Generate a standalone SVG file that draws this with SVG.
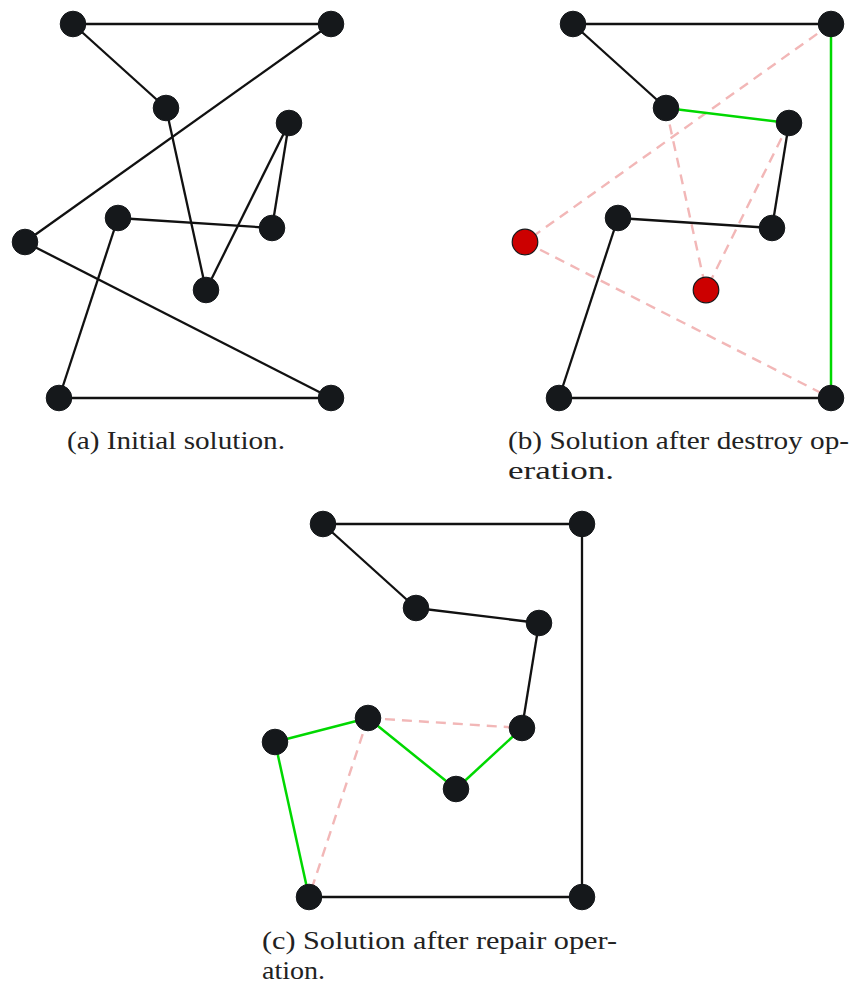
<svg xmlns="http://www.w3.org/2000/svg" width="851" height="988" viewBox="0 0 851 988">
  <style>
    .edge { stroke: #111111; stroke-width: 2.3; fill: none; stroke-linecap: butt; }
    .added { stroke: #00d800; stroke-width: 2.5; fill: none; }
    .removed { stroke: #f2b7b7; stroke-width: 2.4; fill: none; stroke-dasharray: 10 7; }
    .node circle { fill: #15181b; stroke: #15181b; stroke-width: 1; }
    .node.removed-node circle { fill: #cc0000; stroke: #15181b; stroke-width: 1.2; }
    .caption { font-family: "Liberation Serif", "DejaVu Serif", serif; font-size: 26px; fill: #222222; }
  </style>
  <rect x="0" y="0" width="851" height="988" fill="#ffffff"/>

  <!-- (a) initial tour -->
  <g id="connectors-a">
    <line class="edge" x1="73" y1="24" x2="331" y2="24"/>
    <line class="edge" x1="73" y1="24" x2="166" y2="108"/>
    <line class="edge" x1="331" y1="24" x2="25" y2="242"/>
    <line class="edge" x1="166" y1="108" x2="206" y2="290"/>
    <line class="edge" x1="289" y1="123" x2="206" y2="290"/>
    <line class="edge" x1="289" y1="123" x2="272" y2="228"/>
    <line class="edge" x1="118" y1="218" x2="272" y2="228"/>
    <line class="edge" x1="118" y1="218" x2="59" y2="398"/>
    <line class="edge" x1="25" y1="242" x2="331" y2="398"/>
    <line class="edge" x1="59" y1="398" x2="331" y2="398"/>
  </g>
  <g id="node-a1" class="node"><circle cx="73" cy="24" r="12.8"/></g>
  <g id="node-a2" class="node"><circle cx="331" cy="24" r="12.8"/></g>
  <g id="node-a3" class="node"><circle cx="166" cy="108" r="12.8"/></g>
  <g id="node-a4" class="node"><circle cx="289" cy="123" r="12.8"/></g>
  <g id="node-a5" class="node"><circle cx="118" cy="218" r="12.8"/></g>
  <g id="node-a6" class="node"><circle cx="272" cy="228" r="12.8"/></g>
  <g id="node-a7" class="node"><circle cx="25" cy="242" r="12.8"/></g>
  <g id="node-a8" class="node"><circle cx="206" cy="290" r="12.8"/></g>
  <g id="node-a9" class="node"><circle cx="59" cy="398" r="12.8"/></g>
  <g id="node-a10" class="node"><circle cx="331" cy="398" r="12.8"/></g>
  <text class="caption" x="67" y="449" textLength="218" lengthAdjust="spacingAndGlyphs">(a) Initial solution.</text>

  <!-- (b) after destroy -->
  <g id="connectors-b">
    <line class="removed" x1="831" y1="24" x2="525" y2="242"/>
    <line class="removed" x1="666" y1="108" x2="706" y2="290"/>
    <line class="removed" x1="789" y1="123" x2="706" y2="290"/>
    <line class="removed" x1="525" y1="242" x2="831" y2="398"/>
    <line class="edge" x1="573" y1="24" x2="831" y2="24"/>
    <line class="edge" x1="573" y1="24" x2="666" y2="108"/>
    <line class="edge" x1="789" y1="123" x2="772" y2="228"/>
    <line class="edge" x1="618" y1="218" x2="772" y2="228"/>
    <line class="edge" x1="618" y1="218" x2="559" y2="398"/>
    <line class="edge" x1="559" y1="398" x2="831" y2="398"/>
    <line class="added" x1="666" y1="108" x2="789" y2="123"/>
    <line class="added" x1="831" y1="24" x2="831" y2="398"/>
  </g>
  <g id="node-b1" class="node"><circle cx="573" cy="24" r="12.8"/></g>
  <g id="node-b2" class="node"><circle cx="831" cy="24" r="12.8"/></g>
  <g id="node-b3" class="node"><circle cx="666" cy="108" r="12.8"/></g>
  <g id="node-b4" class="node"><circle cx="789" cy="123" r="12.8"/></g>
  <g id="node-b5" class="node"><circle cx="618" cy="218" r="12.8"/></g>
  <g id="node-b6" class="node"><circle cx="772" cy="228" r="12.8"/></g>
  <g id="node-b7" class="node removed-node"><circle cx="525" cy="242" r="12.8"/></g>
  <g id="node-b8" class="node removed-node"><circle cx="706" cy="290" r="12.8"/></g>
  <g id="node-b9" class="node"><circle cx="559" cy="398" r="12.8"/></g>
  <g id="node-b10" class="node"><circle cx="831" cy="398" r="12.8"/></g>
  <text class="caption" x="508" y="449" textLength="341" lengthAdjust="spacingAndGlyphs">(b) Solution after destroy op-</text>
  <text class="caption" x="508" y="479" textLength="106" lengthAdjust="spacingAndGlyphs">eration.</text>

  <!-- (c) after repair -->
  <g id="connectors-c">
    <line class="removed" x1="368" y1="718" x2="522" y2="728"/>
    <line class="removed" x1="368" y1="718" x2="309" y2="897"/>
    <line class="edge" x1="323" y1="524" x2="582" y2="524"/>
    <line class="edge" x1="323" y1="524" x2="416" y2="608"/>
    <line class="edge" x1="416" y1="608" x2="539" y2="623"/>
    <line class="edge" x1="539" y1="623" x2="522" y2="728"/>
    <line class="edge" x1="582" y1="524" x2="582" y2="897"/>
    <line class="edge" x1="309" y1="897" x2="582" y2="897"/>
    <line class="added" x1="275" y1="742" x2="368" y2="718"/>
    <line class="added" x1="275" y1="742" x2="309" y2="897"/>
    <line class="added" x1="368" y1="718" x2="456" y2="789"/>
    <line class="added" x1="456" y1="789" x2="522" y2="728"/>
  </g>
  <g id="node-c1" class="node"><circle cx="323" cy="524" r="12.8"/></g>
  <g id="node-c2" class="node"><circle cx="582" cy="524" r="12.8"/></g>
  <g id="node-c3" class="node"><circle cx="416" cy="608" r="12.8"/></g>
  <g id="node-c4" class="node"><circle cx="539" cy="623" r="12.8"/></g>
  <g id="node-c5" class="node"><circle cx="368" cy="718" r="12.8"/></g>
  <g id="node-c6" class="node"><circle cx="522" cy="728" r="12.8"/></g>
  <g id="node-c7" class="node"><circle cx="275" cy="742" r="12.8"/></g>
  <g id="node-c8" class="node"><circle cx="456" cy="789" r="12.8"/></g>
  <g id="node-c9" class="node"><circle cx="309" cy="897" r="12.8"/></g>
  <g id="node-c10" class="node"><circle cx="582" cy="897" r="12.8"/></g>
  <text class="caption" x="262" y="949" textLength="355" lengthAdjust="spacingAndGlyphs">(c) Solution after repair oper-</text>
  <text class="caption" x="262" y="979" textLength="63" lengthAdjust="spacingAndGlyphs">ation.</text>
</svg>
